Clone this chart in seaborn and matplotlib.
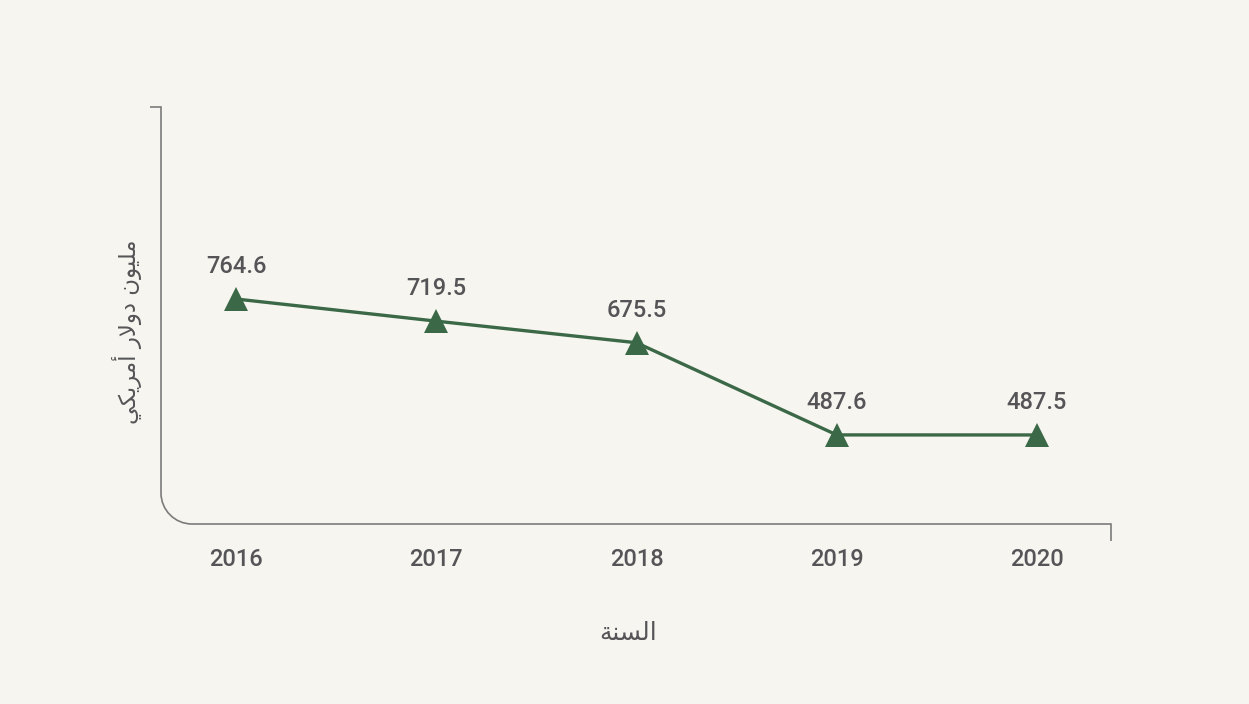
import matplotlib
matplotlib.use("Agg")
import matplotlib.pyplot as plt
from matplotlib.path import Path
from matplotlib.patches import PathPatch
import seaborn as sns
import pandas as pd

years = [2016, 2017, 2018, 2019, 2020]
values = [764.6, 719.5, 675.5, 487.6, 487.5]
x_title = "السنة"
y_title = "مليون دولار أمريكي"

# minimal Arabic shaping (isolated, final, initial, medial)
FORMS = {
    "ا": ("\uFE8D", "\uFE8E", None, None),
    "أ": ("\uFE83", "\uFE84", None, None),
    "ل": ("\uFEDD", "\uFEDE", "\uFEDF", "\uFEE0"),
    "س": ("\uFEB1", "\uFEB2", "\uFEB3", "\uFEB4"),
    "ن": ("\uFEE5", "\uFEE6", "\uFEE7", "\uFEE8"),
    "ة": ("\uFE93", "\uFE94", None, None),
    "م": ("\uFEE1", "\uFEE2", "\uFEE3", "\uFEE4"),
    "ي": ("\uFEF1", "\uFEF2", "\uFEF3", "\uFEF4"),
    "و": ("\uFEED", "\uFEEE", None, None),
    "د": ("\uFEA9", "\uFEAA", None, None),
    "ر": ("\uFEAD", "\uFEAE", None, None),
    "ك": ("\uFED9", "\uFEDA", "\uFEDB", "\uFEDC"),
}


def shape_word(w):
    chars = []
    i = 0
    while i < len(w):
        if w[i] == "ل" and i + 1 < len(w) and w[i + 1] == "ا":
            chars.append("LA")
            i += 2
        else:
            chars.append(w[i])
            i += 1

    def joins_left(c):
        return c != "LA" and FORMS[c][2] is not None

    out = []
    for k, c in enumerate(chars):
        prev_j = k > 0 and joins_left(chars[k - 1])
        next_exists = k + 1 < len(chars)
        if c == "LA":
            out.append("\uFEFC" if prev_j else "\uFEFB")
            continue
        f = FORMS[c]
        can_left = f[2] is not None and next_exists
        if prev_j and can_left:
            out.append(f[3])
        elif prev_j:
            out.append(f[1])
        elif can_left:
            out.append(f[2])
        else:
            out.append(f[0])
    return "".join(out)


def ar(text):
    words = [shape_word(w) for w in text.split(" ")]
    return " ".join(w[::-1] for w in words[::-1])


BG = "#f6f5f0"
GREEN = "#3b6846"
TXT = "#555557"
AX = "#7b7b7b"

sns.set_theme(style="white")
plt.rcParams["font.family"] = ["Roboto", "DejaVu Sans"]

fig = plt.figure(figsize=(12.49, 7.04), dpi=100, facecolor=BG)
W, H = 1249, 704
left, right, top, bottom = 161, 1111, 107, 524
ax = fig.add_axes([left / W, 1 - bottom / H, (right - left) / W, (bottom - top) / H])
ax.set_facecolor(BG)

df = pd.DataFrame({"year": years, "value": values})
sns.lineplot(data=df, x="year", y="value", ax=ax, color=GREEN, linewidth=2.4,
             marker="^", markersize=17, markeredgewidth=0, markerfacecolor=GREEN)

ax.set_xlim(2015.625, 2020.37)
ax.set_ylim(306, 1156)
ax.set_xticks(years)
ax.set_xticklabels([str(y) for y in years])
ax.set_yticks([])
ax.tick_params(axis="x", length=0, pad=17, labelsize=17, labelcolor=TXT)
for lab in ax.get_xticklabels():
    lab.set_fontweight("medium")
ax.set_xlabel("")
ax.set_ylabel("")
for s in ax.spines.values():
    s.set_visible(False)

for x, v in zip(years, values):
    ax.annotate(f"{v}", (x, v), xytext=(0, 23.5), textcoords="offset points",
                ha="center", va="center", fontsize=17, color=TXT, fontweight="medium")

# custom axis frame with rounded corner
aw, ah = right - left, bottom - top
rx, ry = 31 / aw, 31 / ah
k = 0.5523
verts = [(-11 / aw, 1), (0, 1), (0, ry), (0, ry * (1 - k)), (rx * (1 - k), 0), (rx, 0),
         (1, 0), (1, -17 / ah)]
codes = [Path.MOVETO, Path.LINETO, Path.LINETO, Path.CURVE4, Path.CURVE4, Path.CURVE4,
         Path.LINETO, Path.LINETO]
ax.add_patch(PathPatch(Path(verts, codes), transform=ax.transAxes, fill=False,
                       edgecolor=AX, linewidth=1.2, clip_on=False))

fig.text(628 / W, 1 - 633 / H, ar(x_title), ha="center", va="center", fontsize=18,
         color=TXT, family=["DejaVu Sans"])
fig.text(127 / W, 1 - 332 / H, ar(y_title), ha="center", va="center", fontsize=16.5,
         color=TXT, rotation=90, family=["DejaVu Sans"])

fig.savefig("out.png", dpi=100, facecolor=BG)
